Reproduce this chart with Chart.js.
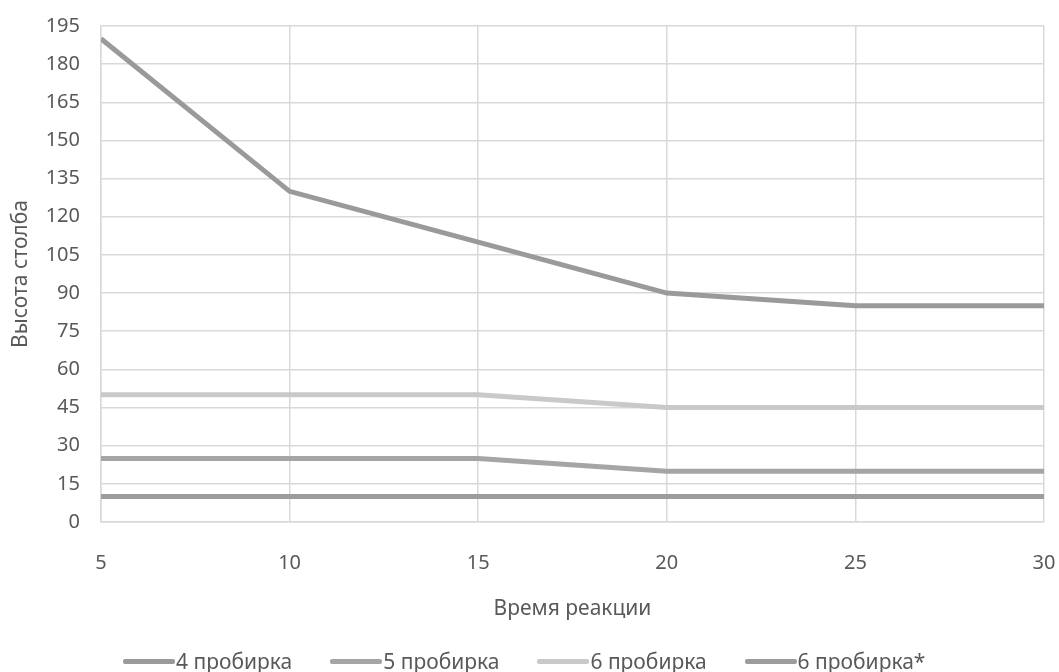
<!DOCTYPE html>
<html>
<head>
<meta charset="utf-8">
<script src="https://cdn.jsdelivr.net/npm/chart.js@4"></script>
<style>
  html, body { margin: 0; padding: 0; background: #fff; }
  #wrap { position: relative; width: 1059px; height: 672px; }
  #legend { position: absolute; left: 123px; top: 649px; display: flex; gap: 38px;
            font-family: 'Noto Sans', sans-serif; font-size: 21px; color: #595959; line-height: 24px; }
  .item { display: flex; align-items: center; }
  .swatch { width: 52px; height: 5px; margin-right: 1px; border-radius: 2px; }
</style>
</head>
<body>
<div id="wrap">
  <canvas id="chart" width="1059" height="672"></canvas>
  <div id="legend"></div>
</div>
<script>
let times = [5, 10, 15, 20, 25, 30];
let tube4 = [190, 130, 110, 90, 85, 85];
let tube5 = [25, 25, 25, 20, 20, 20];
let tube6 = [50, 50, 50, 45, 45, 45];
let tube6star = [10, 10, 10, 10, 10, 10];
let seriesNames = ["4 пробирка", "5 пробирка", "6 пробирка", "6 пробирка*"];
let seriesColors = ["#9a9a9a", "#a5a5a5", "#c9c9c9", "#9c9c9c"];

function pts(vals) {
    return vals.map((v, i) => ({ x: times[i], y: v }));
}

let allSeries = [tube4, tube5, tube6, tube6star];
let gridColor = "#d9d9d9";
let textColor = "#595959";
let font = { family: "'Noto Sans', sans-serif", size: 20 };
let titleFont = { family: "'Noto Sans', sans-serif", size: 21 };

// html legend, same order as the datasets
let legend = document.getElementById("legend");
seriesNames.forEach((name, i) => {
    let item = document.createElement("div");
    item.className = "item";
    let sw = document.createElement("span");
    sw.className = "swatch";
    sw.style.background = seriesColors[i];
    let txt = document.createElement("span");
    txt.textContent = name;
    item.appendChild(sw);
    item.appendChild(txt);
    legend.appendChild(item);
});

new Chart(document.getElementById("chart"), {
    type: "line",
    data: {
        datasets: allSeries.map((s, i) => ({
            label: seriesNames[i],
            data: pts(s),
            borderColor: seriesColors[i],
            backgroundColor: seriesColors[i],
            borderWidth: 5,
            pointRadius: 0,
            tension: 0,
            fill: false
        }))
    },
    options: {
        responsive: false,
        animation: false,
        layout: { padding: { left: 0, right: 15, top: 26, bottom: 0 } },
        plugins: {
            tooltip: { enabled: false },
            legend: { display: false }
        },
        scales: {
            x: {
                type: "linear",
                min: 5,
                max: 30,
                afterFit: s => { s.height = 150; s.paddingLeft = 0; s.paddingRight = 0; },
                ticks: { stepSize: 5, color: textColor, font: font, padding: 29 },
                grid: { color: gridColor, drawTicks: false, lineWidth: 1.5 },
                border: { color: gridColor, width: 1.5 },
                title: { display: true, text: "Время реакции", color: textColor, font: titleFont, padding: { top: 0, bottom: 50 } }
            },
            y: {
                min: 0,
                max: 195,
                afterFit: s => { s.width = 101; s.paddingTop = 0; s.paddingBottom = 0; },
                ticks: { stepSize: 15, color: textColor, font: font, padding: 21 },
                grid: { color: gridColor, drawTicks: false, lineWidth: 1.5 },
                border: { color: gridColor, width: 1.5 },
                title: { display: true, text: "Высота столба", color: textColor, font: titleFont, padding: { top: 8, bottom: 0 } }
            }
        }
    }
});
</script>
</body>
</html>
